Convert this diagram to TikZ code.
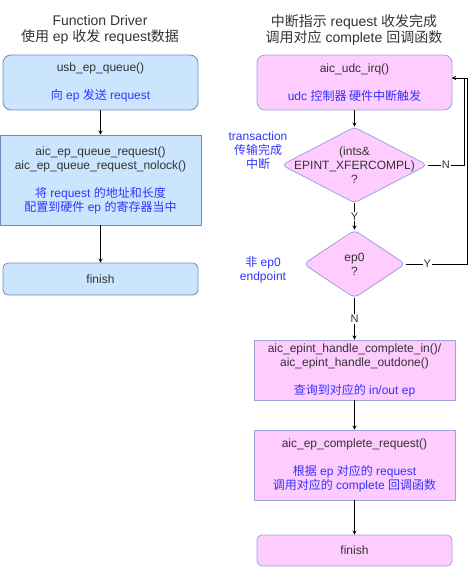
\documentclass[tikz,border=0pt]{standalone}
\usepackage{fontspec}
\setmainfont{Liberation Sans}
\newfontfamily\zhfont{Noto Sans CJK SC}
\newcommand{\zh}[1]{{\zhfont #1}}
\usetikzlibrary{shapes.geometric}
\definecolor{boxblue}{HTML}{CCE5FF}
\definecolor{lineblue}{HTML}{6C8EBF}
\definecolor{boxpink}{HTML}{FFCCFF}
\definecolor{linepink}{HTML}{9AA6D8}
\definecolor{txtblue}{HTML}{3333FF}
\definecolor{txtgray}{HTML}{333333}
\newcommand{\bl}[1]{{\color{txtblue}#1}}

\begin{document}
\begin{tikzpicture}[x=1pt, y=-1pt, >=stealth, thick,
    every node/.style={font=\fontsize{12}{14}\selectfont, text=txtgray, align=center},
    title/.style={font=\fontsize{14}{15.5}\selectfont},
    bluebox/.style={draw=lineblue, fill=boxblue, inner sep=0pt},
    pinkbox/.style={draw=linepink, fill=boxpink, inner sep=0pt},
    decision/.style={pinkbox, diamond, rounded corners=5pt},
    lbl/.style={fill=white, inner sep=1pt, font=\fontsize{11}{13}\selectfont}]
    \useasboundingbox (0,0) rectangle (475,567);

    % left: function driver
    \node[title] (ltitle) at (100,30) {Function Driver\\\zh{使用} ep \zh{收发} request\zh{数据}};
    \node[bluebox, rounded corners=8pt, minimum width=195pt, minimum height=55pt] (bqueue) at (100.5,82.5)
        {usb\_ep\_queue()\\[14pt]\bl{\zh{向} ep \zh{发送} request}};
    \node[bluebox, minimum width=201pt, minimum height=90pt] (breq) at (100.5,180)
        {aic\_ep\_queue\_request()\\aic\_ep\_queue\_request\_nolock()\\[14pt]
         \bl{\zh{将} request \zh{的地址和长度}}\\\bl{\zh{配置到硬件} ep \zh{的寄存器当中}}};
    \node[bluebox, rounded corners=5pt, minimum width=195pt, minimum height=32pt] (bfinish) at (100.5,279) {finish};

    \draw[->] (bqueue) -- (breq);
    \draw[->] (breq) -- (bfinish);

    % right: interrupt
    \node[title] (rtitle) at (354,30) {\zh{中断指示} request \zh{收发完成}\\\zh{调用对应} complete \zh{回调函数}};
    \node[pinkbox, rounded corners=8pt, minimum width=195pt, minimum height=55pt] (birq) at (354.5,82.5)
        {aic\_udc\_irq()\\[14pt]\bl{udc \zh{控制器 硬件中断触发}}};
    \node[decision, minimum width=146pt, minimum height=76pt] (dxfer) at (354.5,165) {};
    \node (dxfertext) at (dxfer) {(ints\&\\EPINT\_XFERCOMPL)\\?};
    \node[decision, minimum width=102pt, minimum height=68pt] (dep0) at (354.5,264) {};
    \node (dep0text) at (dep0) {ep0\\?};
    \node[text=txtblue] (xferlbl) at (258,151) {transaction\\\zh{传输完成}\\\zh{中断}};
    \node[text=txtblue] (ep0lbl) at (263,270) {\zh{非} ep0\\endpoint};
    \node[pinkbox, minimum width=201pt, minimum height=60pt] (bhandle) at (354.5,370)
        {aic\_epint\_handle\_complete\_in()/\\aic\_epint\_handle\_outdone()\\[14pt]
         \bl{\zh{查询到对应的} in/out ep}};
    \node[pinkbox, minimum width=201pt, minimum height=70pt] (bcomplete) at (354.5,465)
        {aic\_ep\_complete\_request()\\[14pt]
         \bl{\zh{根据} ep \zh{对应的} request}\\\bl{\zh{调用对应的} complete \zh{回调函数}}};
    \node[pinkbox, rounded corners=5pt, minimum width=195pt, minimum height=31pt] (bfinish2) at (354.5,550.5) {finish};

    \coordinate (irqin) at (452,78);
    \coordinate (nup) at (464,0);
    \coordinate (yup) at (467,0);

    \draw[->] (birq) -- (dxfer);
    \draw[->] (dxfer) -- node[lbl] {Y} (dep0);
    \draw[->] (dep0) -- node[lbl] {N} (bhandle);
    \draw[->] (bhandle) -- (bcomplete);
    \draw[->] (bcomplete) -- (bfinish2);
    % back to irq
    \draw[->] (dxfer.east) -- node[lbl] {N} (dxfer.east -| nup) |- (irqin);
    \draw[->] (dep0.east) -- node[lbl, pos=0.35] {Y} (dep0.east -| yup) |- (irqin);
\end{tikzpicture}
\end{document}
